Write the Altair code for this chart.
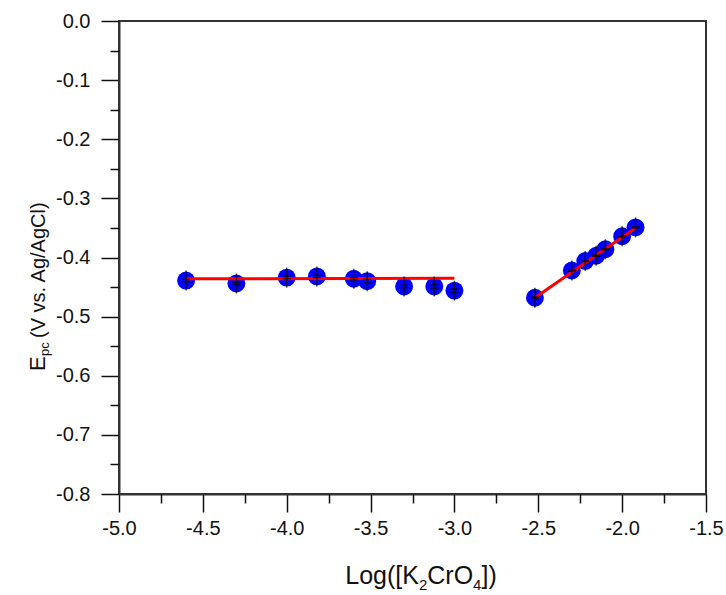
import altair as alt
import pandas as pd

# ---- data ----
x_low = [-4.60, -4.30, -4.00, -3.82, -3.60, -3.52, -3.30, -3.12, -3.00]
y_low = [-0.439, -0.444, -0.434, -0.432, -0.436, -0.440, -0.449, -0.449, -0.456]
err_low = [0.002, 0.002, 0.002, 0.002, 0.002, 0.003, 0.002, 0.003, 0.003]

x_high = [-2.52, -2.30, -2.22, -2.155, -2.10, -2.00, -1.92]
y_high = [-0.468, -0.422, -0.406, -0.397, -0.386, -0.364, -0.349]
err_high = [0.001, 0.001, 0.001, 0.001, 0.001, 0.001, 0.001]

fit1_x = [-4.60, -3.00]
fit1_y = [-0.436, -0.435]
fit2_x = [-2.52, -1.92]
fit2_y = [-0.468, -0.350]

x_major = [-5.0, -4.5, -4.0, -3.5, -3.0, -2.5, -2.0, -1.5]
x_minor = [-4.75, -4.25, -3.75, -3.25, -2.75, -2.25, -1.75]
y_major = [0.0, -0.1, -0.2, -0.3, -0.4, -0.5, -0.6, -0.7, -0.8]
y_minor = [-0.05, -0.15, -0.25, -0.35, -0.45, -0.55, -0.65, -0.75]

pts = pd.DataFrame({"x": x_low + x_high, "y": y_low + y_high, "err": err_low + err_high})
fit = pd.DataFrame({
    "x": fit1_x + fit2_x,
    "y": fit1_y + fit2_y,
    "seg": ["a", "a", "b", "b"],
})

FONT = "Liberation Sans"
W, H = 587, 473
LEFT, TOP = 119, 21

xs = alt.Scale(domain=[-5.0, -1.5], nice=False, zero=False)
ys = alt.Scale(domain=[-0.8, 0.0], nice=False, zero=False)
lab = "replace(format(datum.value, '.1f'), '\u2212', '-')"

x_axis = alt.Axis(values=x_major, labelExpr=lab, tickSize=18, tickWidth=1.5, tickColor="#111",
                  domainColor="#333", domainWidth=2, labelFont=FONT, labelFontSize=20,
                  labelColor="#111", labelPadding=6, labelFlush=False, labelOverlap=False,
                  grid=False, title=None)
y_axis = alt.Axis(values=y_major, labelExpr=lab, tickSize=18, tickWidth=1.5, tickColor="#111",
                  domainColor="#333", domainWidth=2, labelFont=FONT, labelFontSize=20,
                  labelColor="#111", labelPadding=11, labelFlush=False, labelOverlap=False,
                  grid=False, title=None)

base = alt.Chart(pts)

points = base.mark_point(filled=True, shape="circle", size=320, color="#0000FF", opacity=1).encode(
    x=alt.X("x:Q", scale=xs, axis=x_axis),
    y=alt.Y("y:Q", scale=ys, axis=y_axis),
)

minor = base.mark_point(opacity=0).encode(
    x=alt.X("x:Q", scale=xs, axis=alt.Axis(orient="bottom", values=x_minor, labels=False, domain=False,
                                           tickSize=9, tickWidth=1.5, tickColor="#111", grid=False, title=None)),
    y=alt.Y("y:Q", scale=ys, axis=alt.Axis(orient="left", values=y_minor, labels=False, domain=False,
                                           tickSize=9, tickWidth=1.5, tickColor="#111", grid=False, title=None)),
)

lines = alt.Chart(fit).mark_line(color="#FF0000", strokeWidth=3).encode(
    x=alt.X("x:Q", scale=xs, axis=None),
    y=alt.Y("y:Q", scale=ys, axis=None),
    detail="seg:N",
)

stems = base.mark_tick(orient="vertical", size=20, thickness=1.5, color="black").encode(
    x=alt.X("x:Q", scale=xs, axis=None),
    y=alt.Y("y:Q", scale=ys, axis=None),
)
caps_lo = base.transform_calculate(v="datum.y - datum.err").mark_tick(
    orient="horizontal", size=8, thickness=1.5, color="black").encode(
    x=alt.X("x:Q", scale=xs, axis=None),
    y=alt.Y("v:Q", scale=ys, axis=None),
)
caps_hi = base.transform_calculate(v="datum.y + datum.err").mark_tick(
    orient="horizontal", size=8, thickness=1.5, color="black").encode(
    x=alt.X("x:Q", scale=xs, axis=None),
    y=alt.Y("v:Q", scale=ys, axis=None),
)

one = pd.DataFrame({"k": [0]})


def txt(s, px, py, size, angle=0):
    kw = dict(text=s, align="left", baseline="alphabetic", font=FONT, fontSize=size, color="#111")
    if angle:
        kw["angle"] = angle
    return alt.Chart(one).mark_text(**kw).encode(x=alt.value(px), y=alt.value(py))


# x title: Log([K2CrO4]) built from pieces with subscripts
em = {"L": .556, "o": .556, "g": .556, "(": .333, "[": .278, "K": .667, "C": .722, "r": .333,
      "O": .778, "]": .278, ")": .333, "2": .556, "4": .556}
FS, SS = 25, 15
pieces = [("Log([K", FS, 0), ("2", SS, 6), ("CrO", FS, 0), ("4", SS, 6), ("])", FS, 0)]
total = sum(sum(em[c] for c in s) * f for s, f, _ in pieces)
cx = 302 - total / 2
base_y = 563
xt = []
for s, f, dy in pieces:
    xt.append(txt(s, cx, base_y + dy, f))
    cx += sum(em[c] for c in s) * f

# y title: E_pc (V vs. Ag/AgCl), rotated
yt = [
    txt("E", -74, 350, 22, 270),
    txt("pc", -70, 335, 13, 270),
    txt("(V vs. Ag/AgCl)", -74, 317, 20, 270),
]

chart = alt.layer(points, minor, lines, stems, caps_lo, caps_hi, *xt, *yt).resolve_axis(
    x="independent", y="independent"
).properties(
    width=W, height=H,
    autosize=alt.AutoSizeParams(type="none"),
    padding={"left": LEFT, "top": TOP, "right": 726 - LEFT - W, "bottom": 595 - TOP - H},
    background="white",
).configure_view(stroke="#333", strokeWidth=2)

chart.save("out.html", embed_options={"renderer": "svg", "actions": False})
